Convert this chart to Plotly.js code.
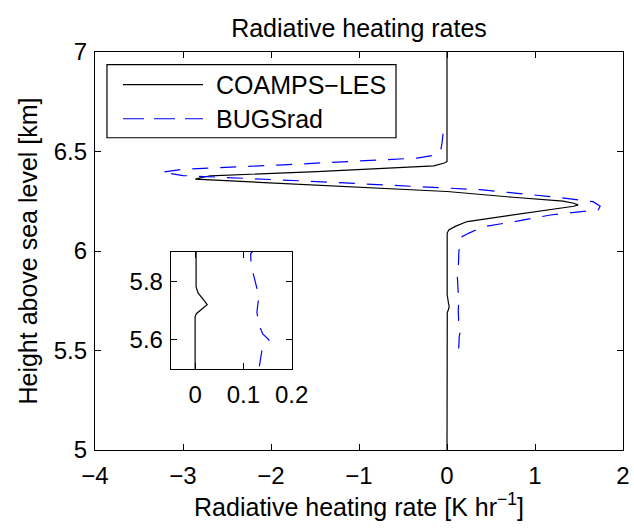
<!DOCTYPE html>
<html><head><meta charset="utf-8">
<script src="https://cdn.plot.ly/plotly-3.0.1.min.js"></script>
<style>html,body{margin:0;padding:0;background:#fff;}</style>
</head><body>
<div id="chart" style="width:634px;height:529px;"></div>
<script>
var coampsHeight = [5.0, 5.68, 5.69, 5.705, 5.72, 5.735, 5.76, 5.78, 5.8, 6.09, 6.106, 6.125, 6.148, 6.18, 6.215, 6.225, 6.232, 6.24, 6.251, 6.27, 6.299, 6.332, 6.354, 6.361, 6.368, 6.378, 6.399, 6.428, 6.442, 6.45, 7.0];
var coampsRate = [0, 0, 0.003, 0.015, 0.025, 0.018, 0.006, 0.002, 0.002, 0.002, 0.02, 0.1, 0.23, 0.75, 1.32, 1.44, 1.49, 1.44, 1.32, 0.75, 0, -1.48, -2.62, -2.86, -2.8, -2.69, -1.48, -0.15, -0.03, 0, 0];
var bugsHeight = [5.51, 5.57, 5.6, 5.62, 5.653, 5.694, 5.75, 5.794, 5.853, 5.893, 5.921, 6.0, 6.072, 6.09, 6.122, 6.15, 6.181, 6.207, 6.225, 6.248, 6.27, 6.307, 6.349, 6.379, 6.396, 6.411, 6.433, 6.467, 6.484, 6.51, 6.542, 6.59];
var bugsRate = [0.133, 0.139, 0.153, 0.14, 0.132, 0.128, 0.132, 0.125, 0.116, 0.115, 0.129, 0.135, 0.171, 0.25, 0.413, 0.8, 1.175, 1.72, 1.74, 1.66, 1.25, 0.413, -1.48, -3.0, -3.24, -3.0, -1.86, -0.34, -0.11, -0.07, -0.057, -0.045];
var seriesNames = ["COAMPS\u2212LES", "BUGSrad"];
var mainXTicks = [-4, -3, -2, -1, 0, 1, 2];
var mainYTicks = [5, 5.5, 6, 6.5, 7];
var insetXTicks = [0, 0.1, 0.2];
var insetYTicks = [5.6, 5.8];

var FONT = "Liberation Sans, Arial, Helvetica, sans-serif";
var BLACK_LINE = {color: "#000", width: 1.2};
var BLUE_LINE = {color: "#0000ff", width: 1.2, dash: "16px,12px"};
var traces = [
  {x: coampsRate, y: coampsHeight, name: seriesNames[0], showlegend: false, mode: "lines", line: BLACK_LINE, xaxis: "x", yaxis: "y"},
  {x: bugsRate, y: bugsHeight, name: seriesNames[1], showlegend: false, mode: "lines", line: BLUE_LINE, xaxis: "x", yaxis: "y"},
  {x: coampsRate, y: coampsHeight, showlegend: false, mode: "lines", line: BLACK_LINE, xaxis: "x2", yaxis: "y2"},
  {x: bugsRate, y: bugsHeight, showlegend: false, mode: "lines", line: BLUE_LINE, xaxis: "x2", yaxis: "y2"}
];
var TICKSIZE = 24;
var axBase = {showgrid: false, zeroline: false, showline: true, linecolor: "#000", linewidth: 1.2, mirror: "ticks", ticks: "inside", ticklen: 6, tickcolor: "#000", tickfont: {size: TICKSIZE, color: "#000", family: FONT}};
function fmt(v) { return v < 0 ? "\u2212" + Math.abs(v) : String(v); }

// legend (layout decoration, paper units)
var legRow = [0.9179, 0.8323];
var shapes = [
  {type: "rect", xref: "paper", yref: "paper", x0: 0.0227, x1: 0.5701, y0: 0.7845, y1: 0.9683, line: {color: "#000", width: 1.2}, fillcolor: "#fff", layer: "above"},
  {type: "line", xref: "paper", yref: "paper", x0: 0.0530, x1: 0.2045, y0: legRow[0], y1: legRow[0], line: {color: BLACK_LINE.color, width: BLACK_LINE.width}, layer: "above"},
  {type: "line", xref: "paper", yref: "paper", x0: 0.0530, x1: 0.2045, y0: legRow[1], y1: legRow[1], line: {color: BLUE_LINE.color, width: BLUE_LINE.width, dash: "21px,10px"}, layer: "above"}
];
var annotations = seriesNames.map(function (n, i) {
  return {text: n, xref: "paper", yref: "paper", x: 0.2254, y: legRow[i], xanchor: "left", yanchor: "middle", showarrow: false, font: {size: 25, color: "#000", family: FONT}};
});

var layout = {
  width: 634, height: 529,
  margin: {l: 95, r: 11, t: 52.4, b: 79.4},
  paper_bgcolor: "#fff", plot_bgcolor: "#fff",
  font: {family: FONT, color: "#000"},
  showlegend: false,
  title: {text: "Radiative heating rates", font: {size: 25, color: "#000"}, x: 0.5, xref: "paper", xanchor: "center", y: 0.946, yanchor: "middle"},
  xaxis: Object.assign({}, axBase, {range: [-4, 2], tickvals: mainXTicks, ticktext: mainXTicks.map(fmt), ticklabelstandoff: 4, title: {text: "Radiative heating rate [K hr<sup>\u22121</sup>]", font: {size: 25}, standoff: 10}}),
  yaxis: Object.assign({}, axBase, {range: [5, 7], tickvals: mainYTicks, ticktext: mainYTicks.map(String), ticklabelstandoff: 2, title: {text: "Height above sea level [km]", font: {size: 25}, standoff: 8}}),
  xaxis2: Object.assign({}, axBase, {anchor: "y2", domain: [0.1439, 0.3725], range: [-0.05, 0.2], tickvals: insetXTicks, ticktext: insetXTicks.map(String), ticklabelstandoff: 4}),
  yaxis2: Object.assign({}, axBase, {anchor: "x2", domain: [0.2029, 0.4982], range: [5.5, 5.9], tickvals: insetYTicks, ticktext: insetYTicks.map(String), ticklabelstandoff: 2}),
  shapes: shapes,
  annotations: annotations
};
Plotly.newPlot("chart", traces, layout, {displayModeBar: false, staticPlot: true});
</script>
</body></html>
